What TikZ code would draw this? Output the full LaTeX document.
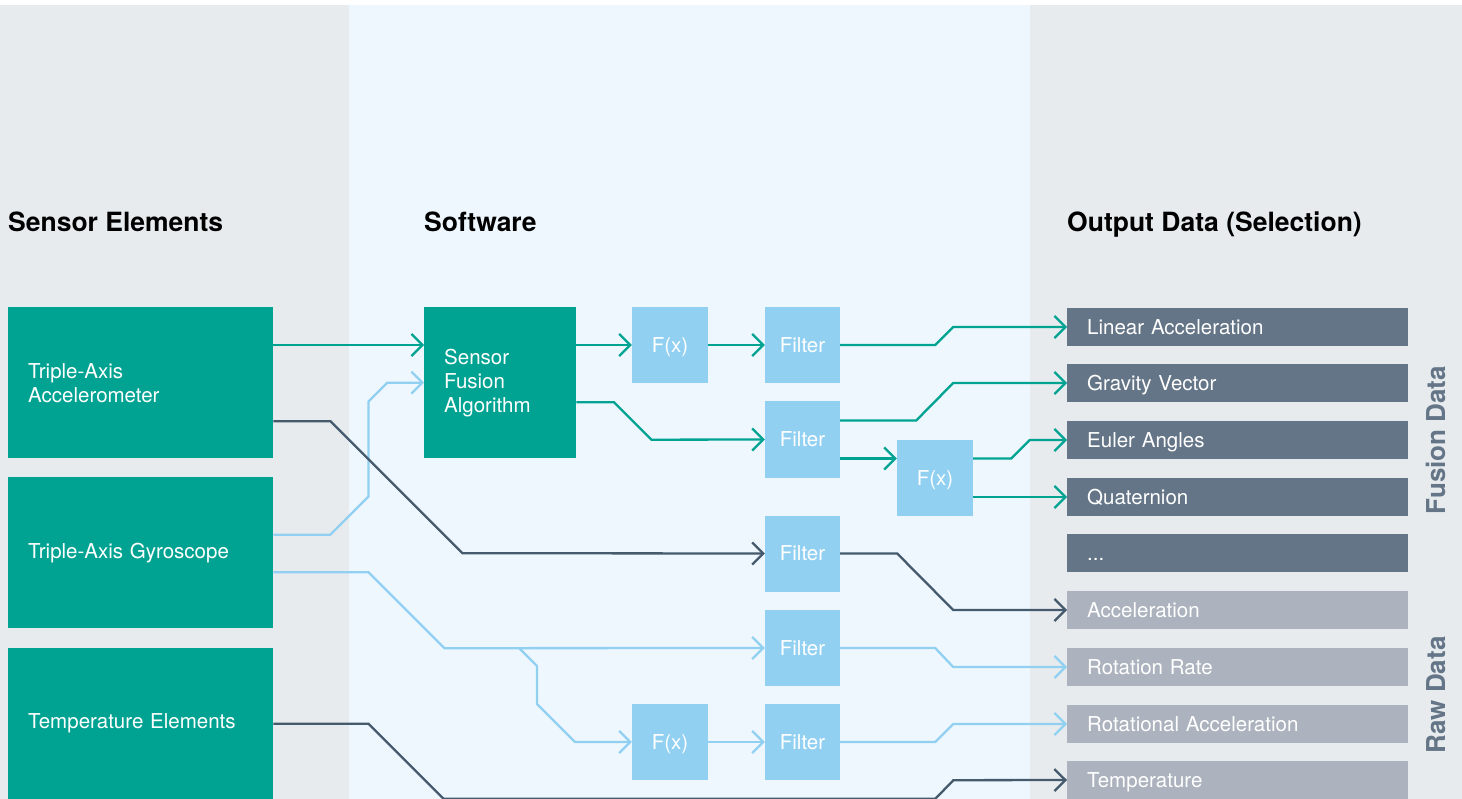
\documentclass[tikz,border=0pt]{standalone}
\usepackage{fontspec}
\setmainfont{TeX Gyre Heros}
\usetikzlibrary{arrows.meta,calc}
\definecolor{sgreen}{HTML}{00A392}
\definecolor{sblue}{HTML}{92D0F2}
\definecolor{sdark}{HTML}{455A6C}
\definecolor{slate}{HTML}{647587}
\definecolor{sgrey}{HTML}{ADB3BE}
\definecolor{bggrey}{HTML}{E7EBEE}
\definecolor{bgblue}{HTML}{EDF7FD}
\tikzset{
  title/.style={anchor=base west,inner sep=0pt,font=\fontsize{26.5pt}{30pt}\selectfont\bfseries},
  sidelabel/.style={rotate=90,inner sep=0pt,text=slate,font=\fontsize{26pt}{30pt}\selectfont\bfseries},
  sensorbox/.style={anchor=north west,fill=sgreen,text=white,inner xsep=20pt,inner ysep=0pt,
    text width=225pt,minimum height=151pt,align=left,font=\fontsize{20.5pt}{24pt}\selectfont},
  algobox/.style={anchor=north west,fill=sgreen,text=white,inner xsep=20pt,inner ysep=0pt,
    text width=112pt,minimum height=151pt,align=left,font=\fontsize{20.5pt}{24pt}\selectfont},
  funcbox/.style={fill=sblue,text=white,inner sep=0pt,minimum width=76pt,minimum height=76pt,
    text height=14.5pt,text depth=0pt,font=\fontsize{20.5pt}{24pt}\selectfont},
  fusionout/.style={anchor=west,fill=slate,text=white,inner xsep=20pt,inner ysep=0pt,
    text width=301pt,minimum height=38pt,text height=14.5pt,text depth=0pt,align=left,
    font=\fontsize{20.5pt}{24pt}\selectfont},
  rawout/.style={fusionout,fill=sgrey},
  wire/.style={line width=2.3pt,-{Straight Barb[length=11pt,width=22pt]}},
  greenwire/.style={wire,draw=sgreen},
  bluewire/.style={wire,draw=sblue},
  darkwire/.style={wire,draw=sdark},
}
\begin{document}
\begin{tikzpicture}[x=1pt,y=1pt,yscale=-1,xscale=1]
\useasboundingbox (0,0) rectangle (1462,799);

% panels
\fill[white] (0,0) rectangle (1462,799);
\fill[bggrey] (0,5) rectangle (349,799);
\fill[bgblue] (349,5) rectangle (1030,799);
\fill[bggrey] (1030,5) rectangle (1462,799);

% column titles
\node[title] (tsens) at (8,232) {Sensor Elements};
\node[title] (tsoft) at (424,232) {Software};
\node[title] (tout) at (1067,232) {Output Data (Selection)};

% sensor elements
\node[sensorbox] (acc) at (8,307) {Triple-Axis\\Accelerometer};
\node[sensorbox] (gyro) at (8,477) {Triple-Axis Gyroscope};
\node[sensorbox] (temp) at (8,648) {Temperature Elements};

% software
\node[algobox] (sfa) at (424,307) {Sensor\\Fusion\\Algorithm};
\node[funcbox] (fx1) at (670,345) {F(x)};
\node[funcbox,minimum width=75pt] (filt1) at (802.5,345) {Filter};
\node[funcbox,minimum width=75pt] (filt2) at (802.5,439.5) {Filter};
\node[funcbox] (fx2) at (935,478) {F(x)};
\node[funcbox,minimum width=75pt] (filt3) at (802.5,553.5) {Filter};
\node[funcbox,minimum width=75pt] (filt4) at (802.5,648) {Filter};
\node[funcbox] (fx3) at (670,742) {F(x)};
\node[funcbox,minimum width=75pt] (filt5) at (802.5,742) {Filter};
\coordinate (split) at (519,648);

% output data
\node[fusionout] (lin) at (1067,327) {Linear Acceleration};
\node[fusionout] (grav) at (1067,383) {Gravity Vector};
\node[fusionout] (euler) at (1067,440) {Euler Angles};
\node[fusionout] (quat) at (1067,497) {Quaternion};
\node[fusionout] (more) at (1067,553) {...};
\node[rawout] (accout) at (1067,610) {Acceleration};
\node[rawout] (rot) at (1067,667) {Rotation Rate};
\node[rawout] (rotacc) at (1067,724) {Rotational Acceleration};
\node[rawout] (tempout) at (1067,780) {Temperature};

\node[sidelabel] (fusion) at (1436,440) {Fusion Data};
\node[sidelabel] (raw) at (1436,695) {Raw Data};

% fusion path
\draw[greenwire] (acc.east |- fx1) -- (sfa.west |- fx1);
\draw[bluewire] ($(gyro.east)+(0,-18)$) -- ++(57,0) -- ++(38,-38) -- ++(0,-95) -- ++(19,-19) -- (sfa.west);
\draw[greenwire] (sfa.east |- fx1) -- (fx1.west);
\draw[greenwire] (fx1) -- (filt1);
\draw[greenwire] (filt1.east) -- ++(95,0) -- ++(18,-18) -- (lin.west);
\draw[greenwire] ($(sfa.east)+(0,19.5)$) -- ++(37.5,0) -- ++(37.5,37.5) -- (filt2.west);
\draw[greenwire] ($(filt2.east)+(0,-19)$) -- ++(76,0) -- ++(37,-37.5) -- (grav.west);
\draw[greenwire] ($(filt2.east)+(0,19)$) -- ($(fx2.west)+(0,-19.5)$);
\draw[greenwire] ($(fx2.east)+(0,-19.5)$) -- ++(38,0) -- ++(18.5,-18.5) -- (euler.west);
\draw[greenwire] ($(fx2.east)+(0,19)$) -- (quat.west);

% raw path
\draw[darkwire] ($(acc.east)+(0,38.5)$) -- ++(57,0) -- ++(132,132) -- (filt3.west);
\draw[darkwire] (filt3.east) -- ++(57,0) -- ++(56,56.5) -- (accout.west);
\draw[bluewire] ($(gyro.east)+(0,19.5)$) -- ++(95,0) -- ++(76,76) -- (filt4.west);
\draw[bluewire] (split) -- ++(18,18) -- ++(0,38) -- ++(38,38) -- (fx3.west);
\draw[bluewire] (filt4.east) -- ++(95,0) -- ++(18,19) -- (rot.west);
\draw[bluewire] (fx3) -- (filt5);
\draw[bluewire] (filt5.east) -- ++(95,0) -- ++(18,-18) -- (rotacc.west);
\draw[darkwire] (temp.east) -- ++(95,0) -- ++(75,75) -- ++(492,0) -- ++(18,-18.5) -- (tempout.west);
\end{tikzpicture}
\end{document}
